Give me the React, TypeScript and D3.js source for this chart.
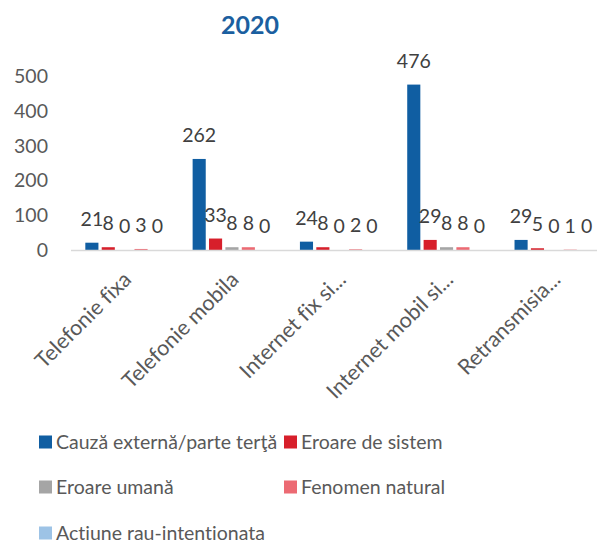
import React from "react";
import * as d3 from "d3";

const title = "2020";
const categories = [
  "Telefonie fixa",
  "Telefonie mobila",
  "Internet fix si...",
  "Internet mobil si...",
  "Retransmisia...",
];
const seriesNames = [
  "Cauză externă/parte terţă",
  "Eroare de sistem",
  "Eroare umană",
  "Fenomen natural",
  "Actiune rau-intentionata",
];
const seriesColors = ["#105EA2", "#D71F2B", "#A5A5A5", "#EC6A73", "#9DC3E6"];
const cauzaExterna = [21, 262, 24, 476, 29];
const eroareSistem = [8, 33, 8, 29, 5];
const eroareUmana = [0, 8, 0, 8, 0];
const fenomenNatural = [3, 8, 2, 8, 1];
const actiuneRau = [0, 0, 0, 0, 0];
const seriesValues = [cauzaExterna, eroareSistem, eroareUmana, fenomenNatural, actiuneRau];
const yTicks = [0, 100, 200, 300, 400, 500];

const W = 597;
const H = 543;
const FONT = "Lato, 'Open Sans', sans-serif";

export default function App() {
  const x0 = d3
    .scaleBand<string>()
    .domain(categories)
    .range([71, 607.5])
    .paddingInner(0.267)
    .paddingOuter(0.1335);
  const x1 = d3
    .scaleBand<string>()
    .domain(seriesNames)
    .range([0, x0.bandwidth()])
    .paddingInner(0.2)
    .paddingOuter(0);
  const y = d3.scaleLinear().domain([0, 500]).range([250, 76.25]);

  const legendPos = [
    [39, 442],
    [284, 442],
    [39, 487],
    [284, 487],
    [39, 533],
  ];

  return (
    <svg
      width={W}
      height={H}
      style={{ position: "fixed", left: 0, top: 0, background: "#fff", fontVariantLigatures: "none" }}
      fontFamily={FONT}
    >
      <text x={250} y={34} textAnchor="middle" fontSize={25} fontWeight="bold" fill="#1B5FA0">
        {title}
      </text>
      {yTicks.map((t) => (
        <text key={t} x={48} y={y(t)} dy="0.35em" textAnchor="end" fontSize={19.5} fill="#595959">
          {t}
        </text>
      ))}
      {categories.map((c, ci) => (
        <g key={c} transform={`translate(${x0(c)},0)`}>
          {seriesNames.map((s, si) => {
            const v = seriesValues[si][ci];
            return (
              <rect
                key={s}
                x={x1(s)}
                y={y(v)}
                width={x1.bandwidth()}
                height={y(0) - y(v)}
                fill={seriesColors[si]}
              />
            );
          })}
        </g>
      ))}
      <line x1={71} x2={W} y1={y(0) + 0.5} y2={y(0) + 0.5} stroke="#D9D9D9" strokeWidth={1.5} />
      {categories.map((c, ci) => (
        <g key={c + "l"} transform={`translate(${x0(c)},0)`}>
          {seriesNames.map((s, si) => {
            const v = seriesValues[si][ci];
            return (
              <text
                key={s}
                x={(x1(s) as number) + x1.bandwidth() / 2}
                y={y(v) - 17}
                textAnchor="middle"
                fontSize={19.5}
                fill="#404040"
              >
                {v}
              </text>
            );
          })}
        </g>
      ))}
      {categories.map((c) => {
        const cx = (x0(c) as number) + x0.bandwidth() / 2;
        return (
          <text
            key={c + "x"}
            transform={`translate(${cx + 8},${281}) rotate(-45)`}
            textAnchor="end"
            fontSize={21.5}
            fill="#595959"
          >
            {c}
          </text>
        );
      })}
      {seriesNames.map((s, si) => (
        <g key={s + "lg"} transform={`translate(${legendPos[si][0]},${legendPos[si][1]})`}>
          <rect x={0} y={-6.5} width={13} height={13} fill={seriesColors[si]} />
          <text x={17} y={0} dy="0.35em" fontSize={19.5} fill="#595959">
            {s}
          </text>
        </g>
      ))}
    </svg>
  );
}
